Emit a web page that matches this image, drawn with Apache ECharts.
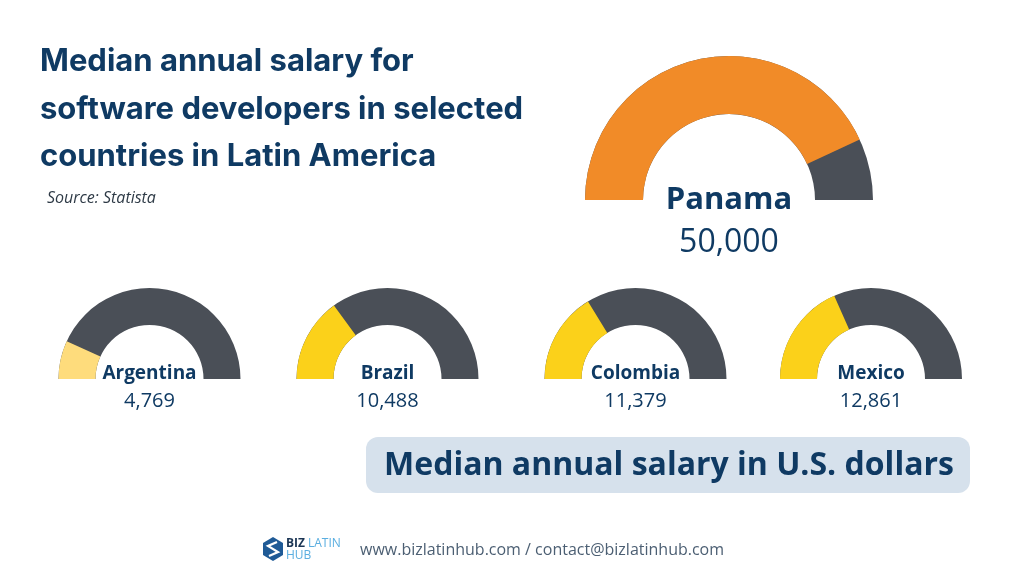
<!DOCTYPE html>
<html>
<head>
<meta charset="utf-8">
<script src="https://cdn.jsdelivr.net/npm/echarts@6/dist/echarts.min.js"></script>
<style>
  html, body { margin: 0; padding: 0; background: #ffffff; }
  #chart { width: 1024px; height: 576px; }
</style>
</head>
<body>
<div id="chart"></div>
<script>
// ---- Data ----
const featuredCountry = 'Panama';
const featuredValue = 50000;
const featuredMax = 58000;

const countries = ['Argentina', 'Brazil', 'Colombia', 'Mexico'];
const salaries = [4769, 10488, 11379, 12861];
const smallMax = 35000;

const titleLines = ['Median annual salary for', 'software developers in selected', 'countries in Latin America'];
const sourceText = 'Source: Statista';
const unitLabel = 'Median annual salary in U.S. dollars';
const footerText = 'www.bizlatinhub.com / contact@bizlatinhub.com';

// ---- Styles ----
const NAVY = '#0F3A63';
const DARK = '#4A4F57';
const ORANGE = '#F18B28';
const YELLOW = '#FBD11A';
const LIGHT_YELLOW = '#FEDC7C';
const FONT = '"Open Sans", "Noto Sans", sans-serif';

const fmt = v => Number(v).toLocaleString('en-US');

function gauge(name, value, max, center, radius, width, color, nameSize, nameOffset, valueSize, valueOffset) {
  return {
    type: 'gauge',
    center: center,
    radius: radius,
    startAngle: 180,
    endAngle: 0,
    min: 0,
    max: max,
    splitNumber: 1,
    axisLine: { lineStyle: { width: width, color: [[1, DARK]] } },
    progress: { show: true, overlap: true, width: width, roundCap: false, itemStyle: { color: color } },
    pointer: { show: false },
    anchor: { show: false },
    axisTick: { show: false },
    splitLine: { show: false },
    axisLabel: { show: false },
    title: {
      show: true,
      offsetCenter: [0, nameOffset],
      color: NAVY,
      fontFamily: FONT,
      fontWeight: 'bold',
      fontSize: nameSize
    },
    detail: {
      show: true,
      offsetCenter: [0, valueOffset],
      color: NAVY,
      fontFamily: FONT,
      fontWeight: 'normal',
      fontSize: valueSize,
      formatter: fmt
    },
    data: [{ name: name, value: value }]
  };
}

const smallCenters = [[149.5, 379], [387.5, 379], [635.5, 379], [871, 379]];
const series = [
  gauge(featuredCountry, featuredValue, featuredMax, [729, 200], 144, 58, ORANGE, 31, 0, 32, 43)
];
countries.forEach((c, i) => {
  series.push(gauge(c, salaries[i], smallMax, smallCenters[i], 91, 37,
    i === 0 ? LIGHT_YELLOW : YELLOW, 19, -5, 20, 22));
});

const chart = echarts.init(document.getElementById('chart'), null, { renderer: 'canvas' });
chart.setOption({
  animation: false,
  backgroundColor: '#ffffff',
  title: {
    text: titleLines.join('\n'),
    left: 40,
    top: 38,
    padding: 0,
    textStyle: {
      fontFamily: 'Inter, Roboto, sans-serif',
      fontWeight: 'bold',
      fontSize: 31,
      lineHeight: 47.5,
      color: NAVY
    }
  },
  series: series,
  graphic: [
    {
      type: 'text',
      left: 47, top: 190,
      style: { text: sourceText, font: 'italic 16px ' + FONT, fill: '#2E3A46' }
    },
    {
      type: 'rect',
      shape: { x: 366, y: 437, width: 604, height: 56, r: 12 },
      style: { fill: '#D6E1EC' }
    },
    {
      type: 'text',
      x: 669, y: 466,
      style: { text: unitLabel, font: 'bold 32px ' + FONT, fill: NAVY, align: 'center', verticalAlign: 'middle' }
    },
    {
      type: 'polygon',
      shape: { points: [[273, 537], [283, 543], [283, 555], [273, 561], [263, 555], [263, 543]] },
      style: { fill: '#1F5A96' }
    },
    {
      type: 'polyline',
      shape: { points: [[277, 542], [268, 546], [278, 552], [269, 556]] },
      style: { stroke: '#ffffff', lineWidth: 2.2, fill: null }
    },
    {
      type: 'text',
      x: 286, y: 544,
      style: { text: 'BIZ', font: 'bold 12px ' + FONT, fill: '#1B3554', verticalAlign: 'middle' }
    },
    {
      type: 'text',
      x: 308, y: 544,
      style: { text: 'LATIN', font: '12px ' + FONT, fill: '#5AAEE0', verticalAlign: 'middle' }
    },
    {
      type: 'text',
      x: 286, y: 556,
      style: { text: 'HUB', font: '12px ' + FONT, fill: '#5AAEE0', verticalAlign: 'middle' }
    },
    {
      type: 'text',
      x: 360, y: 550,
      style: { text: footerText, font: '16px ' + FONT, fill: '#4C5F73', verticalAlign: 'middle' }
    }
  ]
});
</script>
</body>
</html>
